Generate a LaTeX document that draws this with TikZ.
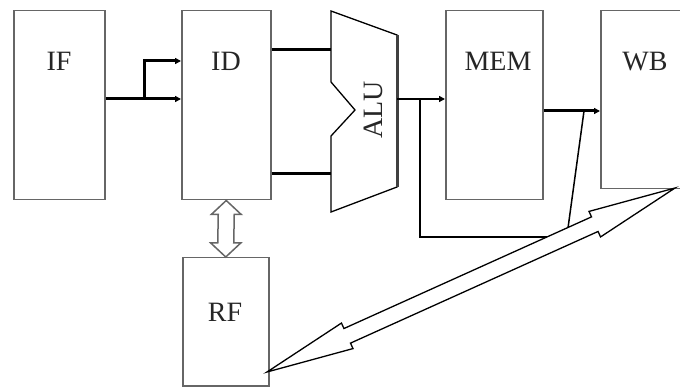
\documentclass[tikz,border=0pt]{standalone}
\usepackage{fontspec}
\setmainfont{Liberation Serif}
\usetikzlibrary{arrows.meta,calc}
\definecolor{boxgray}{HTML}{666666}
\definecolor{txtgray}{HTML}{262626}
\begin{document}
\begin{tikzpicture}[x=1pt,y=-1pt,
  box/.style={draw=boxgray, line width=1.5pt, inner sep=0pt, anchor=north west},
  lbl/.style={anchor=base, inner sep=0pt, text=txtgray, font=\fontsize{28}{30}\selectfont},
  wthick/.style={line width=3pt, black},
  wmid/.style={line width=2pt, black},
  wthin/.style={line width=1.5pt, black},
  tipA/.style={-{Triangle[length=6pt,width=6pt]}},
  hollow/.style={draw=black, fill=white, line width=1.3pt, line join=miter}
]
\clip (0,0) rectangle (680,387);
\fill[white] (0,0) rectangle (680,387);

% boxes
\node[box, minimum width=91pt, minimum height=189pt] (IF)  at (13,10) {};
\node[box, minimum width=89pt, minimum height=189pt] (ID)  at (181,10) {};
\node[box, minimum width=97pt, minimum height=189pt] (MEM) at (445,10) {};
\node[box, minimum width=100pt, minimum height=178pt] (WB) at (600,10) {};
\node[box, minimum width=86pt, minimum height=128pt] (RF)  at (182,257) {};

% labels
\node[lbl] (IFt)  at (59,71)  {IF};
\node[lbl] (IDt)  at (226,71) {ID};
\node[lbl] (MEMt) at (498,71) {MEM};
\node[lbl] (WBt)  at (645,71) {WB};
\node[lbl] (RFt)  at (225,321) {RF};

% ALU shape
\coordinate (aluTL) at (331,11);
\coordinate (aluTR) at (397,35);
\coordinate (aluBR) at (397,187);
\coordinate (aluBL) at (331,212);
\draw[black, line width=1.3pt, line join=miter]
  (aluTL) -- (aluTR) -- (aluBR) -- (aluBL) -- (331,136) -- (355,110) -- (331,82) -- cycle;
\draw[line width=3pt, black!75] (aluTR) -- (aluBR);
\node[lbl, rotate=90] (ALUt) at (382,110) {ALU};

% level coordinates
\coordinate (y50) at (0,50);
\coordinate (y61) at (0,61);
\coordinate (y99) at (0,99);
\coordinate (y111) at (0,111);
\coordinate (y174) at (0,174);
\coordinate (fork1) at (144,99);
\coordinate (fork2) at (420,99);
\coordinate (fbcorner) at (420,237);
\coordinate (fbend) at (548,237);
\coordinate (tapbot) at (568,228);
\coordinate (taptop) at (584,111);

% IF -> ID
\draw[wthick, tipA] (IF.east |- y99) -- (ID.west |- y99);
\draw[wthick, tipA] (fork1) |- (ID.west |- y61);

% ID -> ALU
\draw[wthick] (ID.east |- y50) -- (aluTL |- y50);
\draw[wthick] (ID.east |- y174) -- (aluTL |- y174);

% ALU -> MEM
\draw[wmid, tipA] (aluTR |- y99) -- (MEM.west |- y99);
\draw[wmid] (fork2) -- (fbcorner) -- (fbend);

% MEM -> WB
\draw[wthick, tipA] (MEM.east |- y111) -- (WB.west |- y111);
\draw[wthin] (tapbot) -- (taptop);

% ID <-> RF hollow double arrow
\draw[draw=boxgray, fill=white, line width=1.5pt, line join=miter]
  (ID.south) -- ($(ID.south)+(-15,14)$) -- ($(ID.south)+(-8,14)$)
  -- ($(RF.north)+(-8,-14)$) -- ($(RF.north)+(-15,-14)$) -- (RF.north)
  -- ($(RF.north)+(15,-14)$) -- ($(RF.north)+(8,-14)$)
  -- ($(ID.south)+(8,14)$) -- ($(ID.south)+(15,14)$) -- cycle;

% RF <-> WB long hollow double arrow
\coordinate (ta) at (267,372);
\coordinate (tb) at (675,188);
\draw[hollow]
  (ta) -- ($(ta)!88pt!(tb)!14pt!90:(tb)$) -- ($(ta)!88pt!(tb)!8pt!90:(tb)$)
  -- ($(tb)!88pt!(ta)!8pt!-90:(ta)$) -- ($(tb)!88pt!(ta)!14pt!-90:(ta)$)
  -- (tb)
  -- ($(tb)!88pt!(ta)!14pt!90:(ta)$) -- ($(tb)!88pt!(ta)!8pt!90:(ta)$)
  -- ($(ta)!88pt!(tb)!8pt!-90:(tb)$) -- ($(ta)!88pt!(tb)!14pt!-90:(tb)$)
  -- cycle;
\end{tikzpicture}
\end{document}
